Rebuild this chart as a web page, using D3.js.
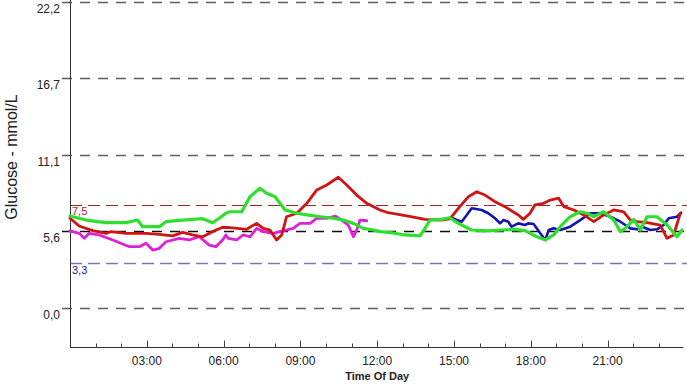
<!DOCTYPE html>
<html><head><meta charset="utf-8">
<script src="https://cdn.jsdelivr.net/npm/d3@7"></script>
<style>
html,body{margin:0;padding:0;background:#fff;}
svg{display:block;font-family:Arial,"Liberation Sans",sans-serif;}
</style></head>
<body><svg id="c" width="687" height="385"></svg>
<script>
// ---- data ----
const gridValues = [0, 5.6, 11.1, 16.7, 22.2];
const gridLabels = ["0,0", "5,6", "11,1", "16,7", "22,2"];
const targetHigh = 7.5, targetHighLabel = "7,5";
const targetLow = 3.3, targetLowLabel = "3,3";
const xTickHours = [3, 6, 9, 12, 15, 18, 21];
const xTickLabels = ["03:00", "06:00", "09:00", "12:00", "15:00", "18:00", "21:00"];
const xTitle = "Time Of Day";
const yTitle = "Glucose - mmol/L";

const greenT = [0,0.63,1.41,2.19,2.64,2.84,3.49,3.75,4.40,5.18,5.57,5.83,6.09,6.25,6.71,7.03,7.42,7.68,8.01,8.40,8.86,9.25,9.77,10.29,10.68,11.07,11.46,11.85,12.11,12.57,13.09,13.67,13.87,14.06,14.52,14.84,15.17,15.69,16.34,16.86,17.38,17.77,18.24,18.57,18.89,19.15,19.54,19.93,20.20,20.46,20.85,21.24,21.50,21.69,22.02,22.28,22.54,22.93,23.32,23.71,23.91];
const greenV = [6.68,6.39,6.20,6.20,6.39,5.91,5.91,6.27,6.39,6.49,6.20,6.52,6.88,6.99,6.99,8.08,8.69,8.33,8.08,7.12,6.88,6.76,6.63,6.52,6.39,6.15,5.79,5.67,5.55,5.47,5.31,5.24,5.79,6.39,6.44,6.56,6.15,5.67,5.60,5.67,5.72,5.62,5.18,4.95,5.31,5.91,6.63,6.99,6.88,6.63,6.99,6.39,5.55,5.79,6.44,5.67,6.63,6.63,6.03,5.18,5.67];

const redT = [0,0.36,0.89,1.41,1.60,2.19,2.97,3.49,4.01,4.40,4.79,5.18,5.57,5.96,6.25,6.90,7.29,7.55,7.81,8.07,8.27,8.46,8.86,9.25,9.64,10.03,10.48,10.81,11.20,11.59,12.11,12.43,13.21,13.87,14.52,14.84,15.17,15.56,15.89,16.21,16.60,16.99,17.51,17.71,17.97,18.16,18.50,18.76,19.09,19.29,19.68,20.07,20.46,20.85,21.24,21.63,21.89,22.15,22.54,23.06,23.32,23.58,23.84];
const redV = [6.52,5.96,5.62,5.43,5.55,5.43,5.43,5.36,5.24,5.50,5.31,5.18,5.55,5.87,5.84,5.72,6.15,5.79,5.67,4.95,5.31,6.63,6.88,7.60,8.57,8.93,9.49,8.93,8.20,7.60,7.12,6.92,6.68,6.44,6.39,6.47,7.24,8.08,8.44,8.20,7.72,7.36,6.76,6.44,6.88,7.48,7.60,7.84,7.97,7.36,7.12,6.76,6.27,6.76,7.12,6.99,6.39,6.27,6.20,6.03,5.07,5.31,6.88];

const magentaT = [0,0.36,0.56,0.75,1.14,1.67,2.32,2.71,2.97,3.23,3.49,3.75,4.27,4.66,5.05,5.44,5.70,5.96,6.09,6.18,6.51,6.77,7.03,7.29,7.55,7.94,8.20,8.46,8.72,8.98,9.38,9.64,10.03,10.35,10.61,10.87,11.07,11.20,11.33,11.59];
const magentaV = [5.60,5.43,5.07,5.43,5.31,4.95,4.46,4.46,4.71,4.22,4.34,4.82,5.07,4.95,5.18,4.58,4.46,4.95,5.31,5.07,4.95,5.31,5.18,5.79,5.55,5.43,5.55,5.67,5.79,6.15,6.15,6.52,6.52,6.68,6.39,6.03,5.18,5.67,6.39,6.34];

const blueT = [14.91,15.11,15.30,15.50,15.69,16.08,16.34,16.60,16.80,16.93,17.12,17.25,17.51,17.77,17.90,18.11,18.37,18.57,18.70,18.89,19.15,19.54,19.93,20.32,20.71,21.11,21.50,21.89,22.15,22.34,22.67,22.93,23.19,23.39,23.71,23.87];
const blueV = [6.56,6.39,6.27,6.76,7.24,7.12,6.88,6.52,6.15,6.39,6.27,5.91,6.15,6.03,6.15,6.10,5.43,4.95,5.67,5.79,5.67,5.91,6.39,6.88,6.88,6.63,6.27,5.79,5.72,5.91,5.67,5.72,6.03,6.52,6.63,6.92];

// ---- drawing ----
const svg = d3.select("#c");
const x = d3.scaleLinear().domain([0, 24]).range([70, 684.4]);
const y = d3.scaleLinear().domain([-2.78, 22.2]).range([346.7, 1.7]);
const crisp = v => Math.round(v) + 0.5;

// grid lines (gray/black dashed)
gridValues.forEach((v, i) => {
  svg.append("line")
    .attr("x1", 62).attr("x2", 687)
    .attr("y1", crisp(y(v))).attr("y2", crisp(y(v)))
    .attr("stroke", v === 5.6 ? "#111" : "#5e5e5e")
    .attr("stroke-width", 1.3)
    .attr("stroke-dasharray", "10,8");
  svg.append("text")
    .attr("x", 60).attr("y", y(v) + 11)
    .attr("text-anchor", "end")
    .attr("font-size", 12).attr("fill", "#222")
    .text(gridLabels[i]);
});

// target lines
svg.append("line").attr("x1", 70).attr("x2", 687)
  .attr("y1", crisp(y(targetHigh))).attr("y2", crisp(y(targetHigh)))
  .attr("stroke", "#a02424").attr("stroke-width", 1)
  .attr("stroke-dasharray", "12,6");
svg.append("text").attr("x", 72).attr("y", y(targetHigh) + 10)
  .attr("font-size", 11).attr("fill", "#b01c1c").text(targetHighLabel);
svg.append("line").attr("x1", 70).attr("x2", 687)
  .attr("y1", crisp(y(targetLow))).attr("y2", crisp(y(targetLow)))
  .attr("stroke", "#7a7ab8").attr("stroke-width", 1.3)
  .attr("stroke-dasharray", "12,6");
svg.append("text").attr("x", 72).attr("y", y(targetLow) + 11)
  .attr("font-size", 11).attr("fill", "#1c1c90").text(targetLowLabel);

// axes lines
svg.append("line").attr("x1", 70.5).attr("x2", 70.5)
  .attr("y1", 0).attr("y2", crisp(y(-2.78))).attr("stroke", "#333").attr("stroke-width", 1);
svg.append("line").attr("x1", 70).attr("x2", x(24) - 1)
  .attr("y1", crisp(y(-2.78))).attr("y2", crisp(y(-2.78))).attr("stroke", "#333").attr("stroke-width", 1);

// x ticks (every hour, inside)
const hours = d3.range(1, 24);
svg.selectAll(".xt").data(hours).enter().append("line")
  .attr("x1", d => crisp(x(d))).attr("x2", d => crisp(x(d)))
  .attr("y1", crisp(y(-2.78))).attr("y2", d => crisp(y(-2.78)) - (d % 3 === 0 ? 7 : 4))
  .attr("stroke", "#444").attr("stroke-width", 1);
svg.selectAll(".xl").data(xTickHours).enter().append("text")
  .attr("x", d => x(d)).attr("y", 365)
  .attr("text-anchor", "middle").attr("font-size", 12).attr("fill", "#222")
  .text((d, i) => xTickLabels[i]);
svg.append("text").attr("x", x(12)).attr("y", 380)
  .attr("text-anchor", "middle").attr("font-size", 11).attr("font-weight", "bold")
  .attr("fill", "#222").text(xTitle);
svg.append("text")
  .attr("transform", "translate(17,157) rotate(-90)")
  .attr("text-anchor", "middle").attr("font-size", 16).attr("fill", "#222")
  .text(yTitle);

// series
const line = d3.line().x(d => x(d[0])).y(d => y(d[1]));
function series(T, V, color, w) {
  svg.append("path").datum(T.map((t, i) => [t, V[i]]))
    .attr("d", line).attr("fill", "none")
    .attr("stroke", color).attr("stroke-width", w)
    .attr("stroke-linejoin", "round").attr("stroke-linecap", "round");
}
series(magentaT, magentaV, "#e020d8", 2.8);
series(blueT, blueV, "#1414b4", 2.6);
series(redT, redV, "#d01414", 2.8);
series(greenT, greenV, "#2ee02e", 3.2);
</script></body></html>
